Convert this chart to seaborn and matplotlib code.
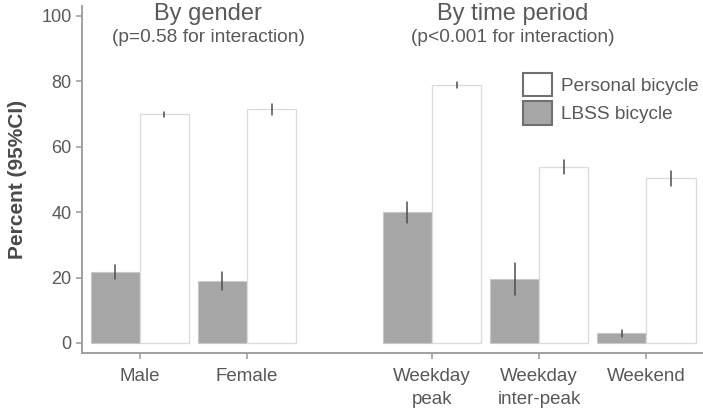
import pandas as pd
import matplotlib
matplotlib.use("Agg")
import matplotlib.pyplot as plt
import seaborn as sns
from matplotlib.patches import Patch

# datos (mediana y limites del IC 95%)
grupos = ["Male", "Female", "Weekday\npeak", "Weekday\ninter-peak", "Weekend"]
lbss_mid = [21.7, 19.0, 40.0, 19.6, 3.0]
lbss_lo = [19.7, 16.2, 36.7, 14.8, 1.9]
lbss_hi = [23.8, 21.7, 43.0, 24.5, 4.0]
pers_mid = [69.9, 71.5, 78.9, 53.7, 50.4]
pers_lo = [69.0, 69.6, 77.9, 51.7, 48.0]
pers_hi = [70.7, 73.1, 79.9, 56.0, 52.6]
series = ["LBSS bicycle", "Personal bicycle"]

# posiciones en el eje x (hay un hueco entre los dos bloques)
x_pos = [0, 1, 2.73, 3.73, 4.73]

filas = []
for i, g in enumerate(grupos):
    for s, lo, mid, hi in [(series[0], lbss_lo, lbss_mid, lbss_hi),
                           (series[1], pers_lo, pers_mid, pers_hi)]:
        for v in (lo[i], mid[i], hi[i]):
            filas.append({"pos": x_pos[i], "serie": s, "valor": v})
df = pd.DataFrame(filas)

sns.set_style("ticks")
plt.rcParams["font.family"] = ["Liberation Sans", "DejaVu Sans"]
gris_txt = "#595959"
gris_eje = "#a0a0a0"

fig = plt.figure(figsize=(7.03, 4.11), dpi=100)
ax = fig.add_axes([82 / 703, 1 - 353 / 411, 1 - 82 / 703, 347 / 411])

sns.barplot(data=df, x="pos", y="valor", hue="serie", hue_order=series,
            palette={series[0]: "#a6a6a6", series[1]: "white"},
            estimator="median", errorbar=lambda v: (v.min(), v.max()),
            native_scale=True, width=0.92, legend=False,
            err_kws={"color": "#4d4d4d", "linewidth": 1.1}, ax=ax)

for bar in ax.containers[0]:
    bar.set_edgecolor("#c8c8c8")
    bar.set_linewidth(0.8)
for bar in ax.containers[1]:
    bar.set_edgecolor("#dcdcdc")
    bar.set_linewidth(1.0)

ax.set_xlim(-0.54, 5.26)
ax.set_ylim(-3.06, 103)
ax.set_xticks(x_pos)
ax.set_xticklabels(grupos, fontsize=13.5, color=gris_txt, linespacing=1.45)
ax.set_yticks([0, 20, 40, 60, 80, 100])
ax.set_yticklabels(["0", "20", "40", "60", "80", "100"], fontsize=13, color=gris_txt)
ax.tick_params(axis="both", colors=gris_eje, length=4, width=1.2)
ax.tick_params(axis="x", pad=7)
for lab in ax.get_xticklabels() + ax.get_yticklabels():
    lab.set_color(gris_txt)
ax.set_xlabel("")
ax.set_ylabel("Percent (95%CI)", fontsize=15, fontweight="bold", color="#4a4a4a", labelpad=10)

for lado in ["top", "right"]:
    ax.spines[lado].set_visible(False)
for lado in ["left", "bottom"]:
    ax.spines[lado].set_color(gris_eje)
    ax.spines[lado].set_linewidth(1.4)

# titulos de cada bloque
ax.text(0.64, 98.8, "By gender", ha="center", va="baseline", fontsize=17, color=gris_txt)
ax.text(0.64, 92.0, "(p=0.58 for interaction)", ha="center", va="baseline", fontsize=13.8, color=gris_txt)
ax.text(3.48, 98.8, "By time period", ha="center", va="baseline", fontsize=17, color=gris_txt)
ax.text(3.48, 92.0, "(p<0.001 for interaction)", ha="center", va="baseline", fontsize=13.8, color=gris_txt)

handles = [Patch(facecolor="white", edgecolor="#707070", linewidth=1.5, label=series[1]),
           Patch(facecolor="#a6a6a6", edgecolor="#707070", linewidth=1.5, label=series[0])]
leg = ax.legend(handles=handles, loc="upper left", bbox_to_anchor=(523 / 703, 1 - 73 / 411),
                bbox_transform=fig.transFigure, frameon=False, borderpad=0, borderaxespad=0,
                fontsize=13.7, handlelength=1.5, handleheight=1.5, handletextpad=0.5,
                labelspacing=0.27)
for t in leg.get_texts():
    t.set_color(gris_txt)

fig.savefig("out.png", dpi=100)
